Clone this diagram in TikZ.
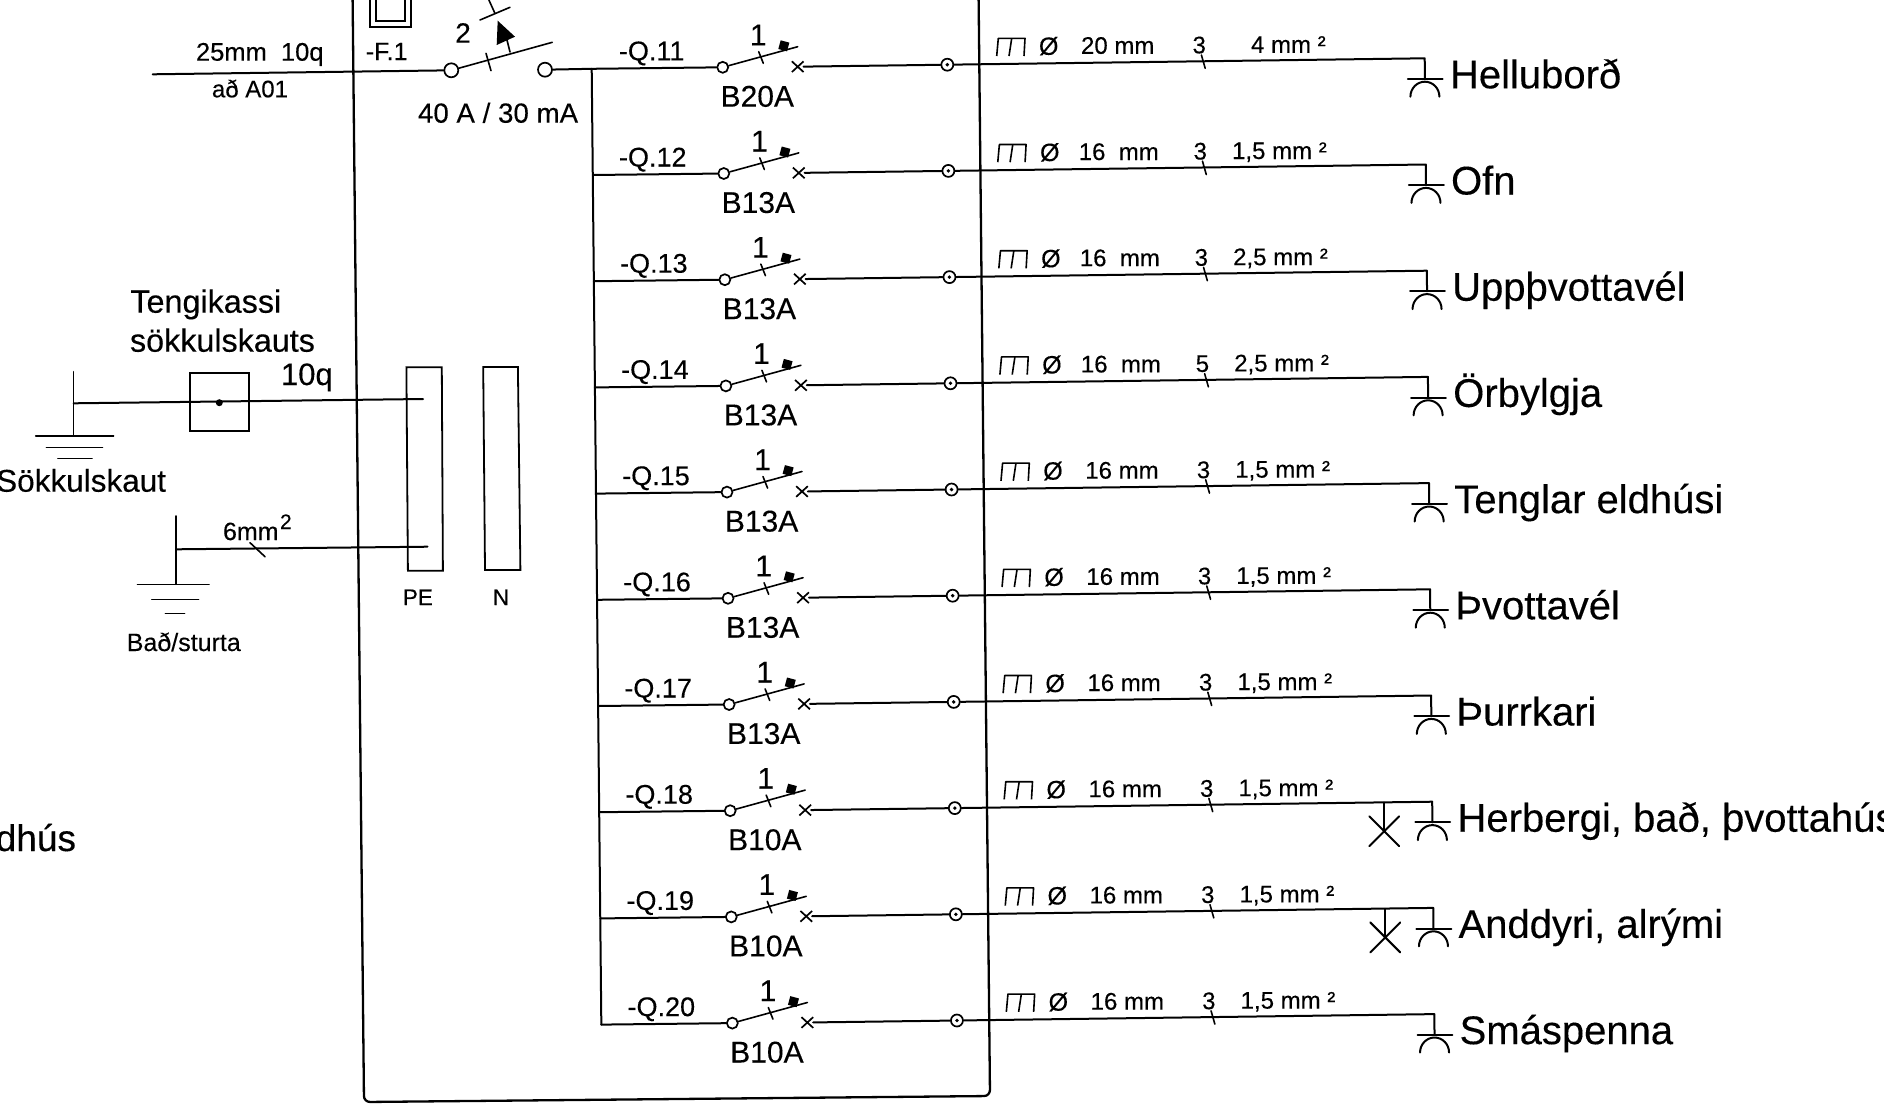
\documentclass[tikz,border=0pt]{standalone}
\usepackage{fontspec}
\setmainfont[FakeBold=0.25]{Liberation Sans}
\usetikzlibrary{shapes.misc}
\newcommand\fsz[1]{\fontsize{#1}{#1}\selectfont}
\tikzset{
  wire/.style={line width=2pt,line cap=round,line join=round},
  thin wire/.style={line width=1.6pt,line cap=round},
  wall/.style={line width=2.3pt,line join=round},
  txt/.style={inner sep=0pt,outer sep=0pt,anchor=base,font=\fsz{#1}},
  txtl/.style={inner sep=0pt,outer sep=0pt,anchor=base west,font=\fsz{#1}},
  txtr/.style={inner sep=0pt,outer sep=0pt,anchor=base east,font=\fsz{#1}},
  opencontact/.style={circle,draw,line width=1.7pt,fill=white,inner sep=0pt,minimum size=#1},
  termmark/.style={circle,draw,line width=1.7pt,inner sep=0pt,minimum size=12pt},
  crossmark/.style={cross out,draw,line width=1.7pt,inner sep=0pt,minimum width=10pt,minimum height=9pt},
}
% #1 index, #2 Q, #3 B, #4 tube size, #5 conductors, #6 section, #7 load, #8 lamp flag
\newcommand\cbrow[8]{%
\begin{scope}[shift={(722.7+1.07*#1,67.3+106.2*#1)}]
  \node[opencontact=11pt] (a#1) at (0,0) {};
  \coordinate (b#1) at (-131,1.5);
  \coordinate (bl#1) at (75,-20.6);
  \node[crossmark] (x#1) at (75,-0.6) {};
  \node[termmark] (t#1) at (224.6,-2.6) {};
  \coordinate (c#1) at (702,-9);
  \coordinate (d#1) at (702.2,11.7);
  \draw[wire] (b#1) -- (a#1);
  \draw[thin wire] (a#1) -- (bl#1);
  \draw[thin wire] (36,-15.6) -- (40.6,-4);
  \fill[rotate around={-15:(61,-21)}] (56.5,-26) rectangle (65.5,-17);
  \node[txt=30] (one#1) at (35.6,-22) {1};
  \node[txt=27] (q#1) at (-71,-7) {-Q.#2};
  \node[txt=30] (br#1) at (34.6,39.4) {#3};
  \draw[wire] (x#1) -- (t#1);
  \fill (t#1.center) circle (1.9pt);
  \draw[wire] (t#1) -- (c#1) -- (d#1);
  \draw[wire] (685.2,11.7) -- (720,11.7);
  \draw[wire] (687.7,29.4) arc[start angle=180,end angle=360,x radius=14.5,y radius=15];
  \node[txtl=40] (load#1) at (727.3,21) {#7};
  % cable data
  \draw[line width=1.6pt,line join=round] (274,-11.3) -- (275.6,-29) -- (302.3,-29) -- (301.3,-11.3);
  \draw[line width=1.6pt] (286.3,-11.3) -- (289,-29);
  \node[txt=25] (dia#1) at (326,-12.5) {Ø};
  \node[txt=24] (size#1) at (395,-13.5) {#4};
  \node[txt=24] (cnt#1) at (476.5,-14) {#5};
  \draw[thin wire] (478.7,-12.3) -- (482.5,1);
  \node[txtr=24] (sec#1) at (603,-14.5) {#6};
  \ifnum#8=1
    \coordinate (lw#1) at (654,-8);
    \coordinate (lc#1) at (654,20.5);
    \draw[wire] (lw#1) -- (lc#1);
    \draw[wire] (639,5.5) -- (669,35.5) (669,5.5) -- (639,35.5);
  \fi
\end{scope}}
\begin{document}
\begin{tikzpicture}[x=1pt,y=-1pt]
\useasboundingbox (0,0) rectangle (1884,1112);
\clip (0,0) rectangle (1884,1112);
\fill[white] (0,0) rectangle (1884,1112);

% enclosure
\draw[wall,rounded corners=6pt] (352.5,-12) -- (364,1102) -- (990,1096) -- (978.5,-12);

% incoming feed and RCD
\coordinate (feed) at (152.7,74.3);
\node[opencontact=14pt] (s1) at (451.3,70.3) {};
\node[opencontact=14pt] (s2) at (545,69.7) {};
\coordinate (blade) at (552.3,42.3);
\draw[wire] (feed) -- (s1);
\draw[thin wire] (s1) -- (blade);
\draw[thin wire] (486,53.3) -- (491,70.7);
\draw[thin wire] (510,52) -- (505,32);
\fill (497.7,20.7) -- (515,36.7) -- (496.7,45) -- cycle;
\draw[thin wire] (480,20) -- (510,7.3);
\draw[thin wire] (495,13.5) -- (488,-2);
\draw[line width=1.8pt] (370,-3) -- (370,26.7) -- (410.7,26.7) -- (410.7,-3);
\draw[line width=1.8pt] (375.7,-3) -- (375.7,20.7) -- (405,20.7) -- (405,-3);
\node[txtl=25.5] (t25) at (196,60.7) {25mm~~10q};
\node[txt=24] (tA01) at (250,97.3) {að A01};
\node[txt=25] (tF) at (386.7,60) {-F.1};
\node[txt=28] (t2) at (463,42.7) {2};
\node[txtl=27.7] (t40) at (418,122.7) {40 A / 30 mA};

% earthing side
\node[draw,line width=1.8pt,inner sep=0pt,minimum width=59.3pt,minimum height=58.6pt] (box) at (219.6,402) {};
\fill (219.3,402.7) circle (3.5pt);
\coordinate (g1top) at (73.6,371.7);
\coordinate (g1bot) at (73.6,435.7);
\coordinate (g1j) at (73.6,403.3);
\coordinate (pe1) at (423,399);
\draw[thin wire] (g1top) -- (g1bot);
\draw[wire] (g1j) -- (pe1);
\draw[thin wire] (35.7,435.7) -- (113.6,435.7);
\draw[thin wire] (46.4,447.3) -- (102.5,447.3);
\draw[thin wire] (57.9,458.3) -- (92,458.3);
\node[txtl=32.3] (tk) at (130.4,312.7) {Tengikassi};
\node[txtl=32.3] (sk) at (130,351.7) {sökkulskauts};
\node[txtl=31] (t10q) at (281,385) {10q};
\node[txtr=31.5] (sok) at (166,491.7) {Sökkulskaut};

\coordinate (g2top) at (175.7,516);
\coordinate (g2bot) at (175.7,584.3);
\coordinate (g2j) at (176,549.3);
\coordinate (pe2) at (427.5,546.7);
\draw[thin wire] (g2top) -- (g2bot);
\draw[wire] (g2j) -- (pe2);
\draw[thin wire] (250,542.7) -- (265,556.7);
\draw[thin wire] (137.5,584.3) -- (209,584.3);
\draw[thin wire] (151.8,599.3) -- (198.6,599.3);
\draw[thin wire] (165.4,613.3) -- (184.6,613.3);
\node[txtl=25] (t6) at (223,540) {6mm};
\node[txtl=21] (t6s) at (280,529) {2};
\node[txtl=25] (bad) at (126.8,651) {Bað/sturta};

% PE and N bars
\draw[line width=1.8pt] (406.4,367.3) -- (441.8,367.3) -- (442.9,570.7) -- (407.9,570.7) -- cycle;
\draw[line width=1.8pt] (483.2,367) -- (517.9,367) -- (520.4,570) -- (485,570) -- cycle;
\node[txt=22.5] (pe) at (417.9,605) {PE};
\node[txt=22.5] (nn) at (501,605) {N};

\node[txtr=37] (dh) at (76,851) {dhús};

% circuit rows
\cbrow{0}{11}{B20A}{20 mm}{3}{4 mm ²}{Helluborð}{0}
\cbrow{1}{12}{B13A}{16~~mm}{3}{1,5 mm ²}{Ofn}{0}
\cbrow{2}{13}{B13A}{16~~mm}{3}{2,5 mm ²}{Uppþvottavél}{0}
\cbrow{3}{14}{B13A}{16~~mm}{5}{2,5 mm ²}{Örbylgja}{0}
\cbrow{4}{15}{B13A}{16 mm}{3}{1,5 mm ²}{Tenglar eldhúsi}{0}
\cbrow{5}{16}{B13A}{16 mm}{3}{1,5 mm ²}{Þvottavél}{0}
\cbrow{6}{17}{B13A}{16 mm}{3}{1,5 mm ²}{Þurrkari}{0}
\cbrow{7}{18}{B10A}{16 mm}{3}{1,5 mm ²}{Herbergi, bað, þvottahús}{1}
\cbrow{8}{19}{B10A}{16 mm}{3}{1,5 mm ²}{Anddyri, alrými}{1}
\cbrow{9}{20}{B10A}{16 mm}{3}{1,5 mm ²}{Smáspenna}{0}

% busbar
\draw[wire] (s2) -- (b0);
\draw[wire] (b0) -- (b9);
\end{tikzpicture}
\end{document}
